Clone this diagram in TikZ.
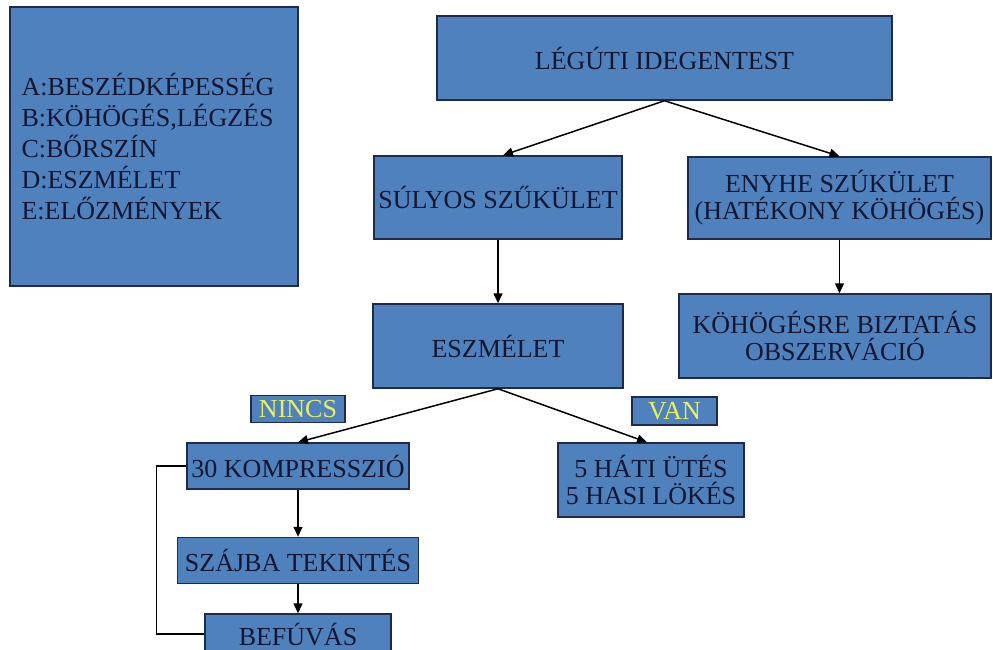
\documentclass[tikz,border=0pt]{standalone}
\usepackage{fontspec}
\setmainfont{Liberation Serif}
\usetikzlibrary{arrows.meta,positioning}
\definecolor{boxblue}{RGB}{79,129,189}
\definecolor{boxedge}{RGB}{30,42,78}
\definecolor{boxtext}{RGB}{18,22,50}
\definecolor{tagyellow}{RGB}{235,240,90}

\begin{document}
\begin{tikzpicture}[x=1pt,y=-1pt,
      box/.style={draw=boxedge,fill=boxblue,line width=1.5pt,inner sep=0pt,
                  text=boxtext,font=\fontsize{26}{27}\selectfont,align=center},
      tag/.style={box,text=tagyellow},
      arr/.style={-{Triangle[length=10pt,width=9pt]},line width=1.5pt},
      back/.style={line width=1.5pt}
    ]
      \clip (0,0) rectangle (993,650);
      % jelmagyarazat
      \node[box,minimum width=288pt,minimum height=279pt,text width=265pt,
            align=left,font=\fontsize{26}{31}\selectfont] (jelmag) at (154,146.5)
            {A:BESZÉDKÉPESSÉG\\B:KÖHÖGÉS,LÉGZÉS\\C:BŐRSZÍN\\D:ESZMÉLET\\E:ELŐZMÉNYEK};
      % fa
      \node[box,minimum width=455pt,minimum height=84pt] (legut) at (664.5,58) {LÉGÚTI IDEGENTEST};
      \node[box,minimum width=248pt,minimum height=83pt] (sulyos) at (498,197.5) {SÚLYOS SZŰKÜLET};
      \node[box,minimum width=303pt,minimum height=82pt] (enyhe) at (839.5,198) {ENYHE SZÚKÜLET\\(HATÉKONY KÖHÖGÉS)};
      \node[box,minimum width=250pt,minimum height=84pt] (eszm) at (498,346) {ESZMÉLET};
      \node[box,minimum width=312pt,minimum height=84pt] (biztat) at (835,336) {KÖHÖGÉSRE BIZTATÁS\\OBSZERVÁCIÓ};
      \node[box,minimum width=222pt,minimum height=46pt] (kompr) at (298,466) {30 KOMPRESSZIÓ};
      \node[box,minimum width=241pt,minimum height=46pt,below=47pt of kompr] (szajba) {SZÁJBA TEKINTÉS};
      \node[box,minimum width=186pt,minimum height=40pt,text depth=0pt,below=29pt of szajba] (befuv) {BEFÚVÁS};
      \node[box,minimum width=186pt,minimum height=74pt] (hati) at (651,480) {5 HÁTI ÜTÉS\\5 HASI LÖKÉS};
      \node[tag,minimum width=94pt,minimum height=27pt,above=19pt of kompr] (nincs) {NINCS};
      \node[tag,minimum width=85pt,minimum height=28pt] (van) at (674.5,411) {VAN};
      % nyilak
      \draw[arr] (legut.south) -- ([xshift=5pt]sulyos.north);
      \draw[arr] (legut.south) -- (enyhe.north);
      \draw[arr] (sulyos.south) -- (eszm.north);
      \draw[arr] (enyhe.south) -- (enyhe.south |- biztat.north);
      \draw[arr] (eszm.south) -- (kompr.north);
      \draw[arr] (eszm.south) -- ([xshift=-4pt]hati.north);
      \draw[arr] (kompr.south) -- (kompr.south |- szajba.north);
      \draw[arr] (szajba.south) -- (szajba.south |- befuv.north);
      \draw[back] (kompr.west) -- ++(-30,0) |- (befuv.west);
    \end{tikzpicture}
\end{document}
